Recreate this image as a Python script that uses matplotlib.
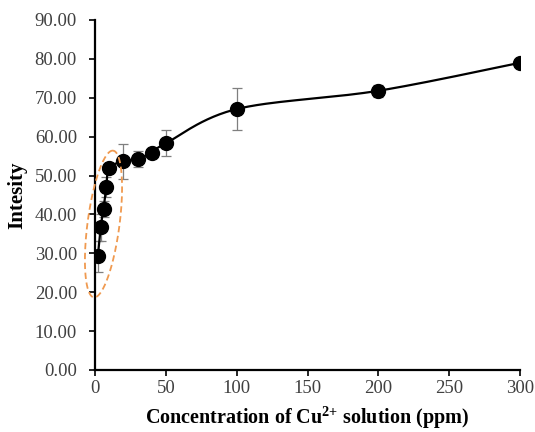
import matplotlib
matplotlib.use("Agg")
import matplotlib.pyplot as plt
import numpy as np

plt.rcParams['font.family'] = ['Liberation Serif', 'DejaVu Serif']
plt.rcParams['mathtext.fontset'] = 'custom'
plt.rcParams['mathtext.rm'] = 'Liberation Serif:bold'
plt.rcParams['mathtext.bf'] = 'Liberation Serif:bold'

conc = [2, 4, 6, 8, 10, 20, 30, 40, 50, 100, 200, 300]
intensity = [29.3, 36.7, 41.4, 47.1, 51.9, 53.7, 54.3, 55.9, 58.3, 67.1, 71.8, 79.0]
err = [4.0, 3.5, 2.0, 2.5, 1.0, 4.5, 2.0, 1.0, 3.3, 5.3, 1.5, 0.5]
yticks = np.arange(0, 91, 10)
xticks = [0, 50, 100, 150, 200, 250, 300]

fig = plt.figure(figsize=(5.35, 4.32), dpi=100)
ax = fig.add_axes([95/535, 62/432, 425/535, 350/432])
ax.set_xlim(0, 300)
ax.set_ylim(0, 90)

# smooth line like excel (catmull-rom in display space)
pts = ax.transData.transform(np.column_stack([conc, intensity]))
P = np.vstack([pts[0], pts, pts[-1]])
curve = []
for i in range(1, len(P) - 2):
    p0, p1, p2, p3 = P[i-1], P[i], P[i+1], P[i+2]
    c1 = p1 + (p2 - p0) / 6
    c2 = p2 - (p3 - p1) / 6
    t = np.linspace(0, 1, 30)[:, None]
    seg = (1-t)**3*p1 + 3*(1-t)**2*t*c1 + 3*(1-t)*t**2*c2 + t**3*p2
    curve.append(seg)
curve = ax.transData.inverted().transform(np.vstack(curve))
ax.plot(curve[:, 0], curve[:, 1], color='black', lw=1.6, zorder=3)

ax.errorbar(conc, intensity, yerr=err, fmt='none', ecolor='#7f7f7f',
            elinewidth=0.9, capsize=3.5, capthick=0.9, zorder=2)
ax.plot(conc, intensity, 'o', color='black', ms=10, zorder=4)

# orange dashed ellipse around low concentration points
cx, cy = 103.5, 432 - 224
a, b = 74, 16
ang = np.deg2rad(82.5)
t = np.linspace(0, 2*np.pi, 200)
ex = cx + a*np.cos(t)*np.cos(ang) - b*np.sin(t)*np.sin(ang)
ey = cy + a*np.cos(t)*np.sin(ang) + b*np.sin(t)*np.cos(ang)
ell = ax.transData.inverted().transform(np.column_stack([ex, ey]))
ax.plot(ell[:, 0], ell[:, 1], color='#f09a50', ls=(0, (3.5, 2)), lw=1.3,
        zorder=5, clip_on=False)

ax.set_xticks(xticks)
ax.set_yticks(yticks)
ax.set_yticklabels([f'{v:.2f}' for v in yticks])
ax.tick_params(direction='out', length=4, width=1.2, labelsize=13.5,
               colors='black', labelcolor='#404040')
ax.tick_params(axis='y', pad=9)
ax.tick_params(axis='x', pad=3)
for s in ['top', 'right']:
    ax.spines[s].set_visible(False)
for s in ['left', 'bottom']:
    ax.spines[s].set_linewidth(1.6)

ax.set_ylabel('Intesity', fontsize=15, fontweight='bold')
ax.set_xlabel(r'Concentration of Cu$^{\text{2+}}$ solution (ppm)',
              fontsize=14.5, fontweight='bold')
ax.yaxis.set_label_coords(-0.16, 0.5)
ax.xaxis.set_label_coords(0.5, -0.097)

fig.savefig('out.png', dpi=100)
